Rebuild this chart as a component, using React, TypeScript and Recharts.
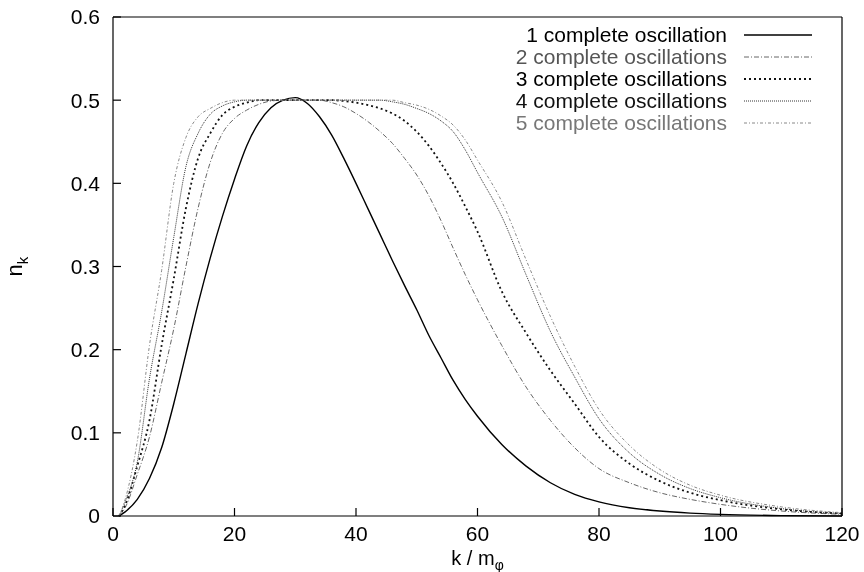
import { LineChart, Line, XAxis, YAxis, Legend } from "recharts";

const kValues = [
  1, 2, 4, 6, 8, 10, 12, 14, 16, 18, 20, 22, 24, 26, 28, 30, 32, 34, 36, 38, 40,
  42, 44, 46, 48, 50, 52, 54, 56, 58, 60, 64, 68, 72, 76, 80, 85, 90, 95, 100, 110, 120,
];

const osc1 = [
  0, 0.005, 0.02, 0.045, 0.082, 0.135, 0.195, 0.255, 0.31, 0.36, 0.405, 0.445, 0.473,
  0.491, 0.5, 0.503, 0.496, 0.48, 0.458, 0.43, 0.4, 0.369, 0.338, 0.307, 0.277, 0.248,
  0.217, 0.19, 0.163, 0.14, 0.12, 0.086, 0.06, 0.04, 0.026, 0.017, 0.01, 0.006, 0.0035,
  0.002, 0.0005, 0,
];

const osc2 = [
  0, 0.01, 0.05, 0.095, 0.16, 0.225, 0.3, 0.37, 0.425, 0.46, 0.478, 0.488, 0.495, 0.499,
  0.5, 0.5, 0.5, 0.5, 0.497, 0.492, 0.484, 0.474, 0.462, 0.448, 0.43, 0.41, 0.385, 0.355,
  0.322, 0.29, 0.26, 0.205, 0.155, 0.115, 0.082, 0.057, 0.04, 0.028, 0.02, 0.014, 0.006,
  0.002,
];

const osc3 = [
  0, 0.013, 0.06, 0.115, 0.205, 0.285, 0.37, 0.43, 0.46, 0.482, 0.492, 0.497, 0.5, 0.5,
  0.5, 0.5, 0.5, 0.5, 0.5, 0.499, 0.497, 0.494, 0.49, 0.484, 0.475, 0.462, 0.445, 0.424,
  0.4, 0.372, 0.342, 0.27, 0.22, 0.175, 0.135, 0.095, 0.063, 0.042, 0.028, 0.019, 0.008,
  0.003,
];

const osc4 = [
  0, 0.017, 0.065, 0.165, 0.245, 0.335, 0.42, 0.46, 0.483, 0.493, 0.498, 0.5, 0.5, 0.5,
  0.5, 0.5, 0.5, 0.5, 0.5, 0.5, 0.5, 0.5, 0.5, 0.498, 0.495, 0.49, 0.484, 0.475, 0.462,
  0.44, 0.413, 0.36, 0.29, 0.222, 0.167, 0.117, 0.076, 0.05, 0.033, 0.022, 0.009, 0.003,
];

const osc5 = [
  0, 0.02, 0.09, 0.205, 0.295, 0.4, 0.455, 0.48, 0.49, 0.497, 0.5, 0.5, 0.5, 0.5, 0.5,
  0.5, 0.5, 0.5, 0.5, 0.5, 0.5, 0.5, 0.5, 0.5, 0.497, 0.494, 0.489, 0.481, 0.47, 0.452,
  0.428, 0.378, 0.308, 0.24, 0.18, 0.128, 0.085, 0.056, 0.037, 0.025, 0.011, 0.004,
];

const xTicks = [0, 20, 40, 60, 80, 100, 120];
const yTicks = [0, 0.1, 0.2, 0.3, 0.4, 0.5, 0.6];

const seriesLabels = [
  "1 complete oscillation",
  "2 complete oscillations",
  "3 complete oscillations",
  "4 complete oscillations",
  "5 complete oscillations",
];

const FONT = '"Liberation Sans", Arial, Helvetica, sans-serif';

const series = [
  { key: "osc1", name: seriesLabels[0], stroke: "#000", text: "#000", width: 1.4, dash: undefined },
  { key: "osc2", name: seriesLabels[1], stroke: "#666", text: "#555", width: 1, dash: "5 2 1 2" },
  { key: "osc3", name: seriesLabels[2], stroke: "#111", text: "#000", width: 1.8, dash: "2 3" },
  { key: "osc4", name: seriesLabels[3], stroke: "#333", text: "#111", width: 1, dash: "1 1" },
  { key: "osc5", name: seriesLabels[4], stroke: "#888", text: "#777", width: 1, dash: "3 2 1 2" },
];

const data = kValues.map((k, i) => ({
  k,
  osc1: osc1[i],
  osc2: osc2[i],
  osc3: osc3[i],
  osc4: osc4[i],
  osc5: osc5[i],
}));

function OscLegend() {
  return (
    <div style={{ fontFamily: FONT, fontSize: 21 }}>
      {series.map((s) => (
        <div
          key={s.key}
          style={{
            display: "flex",
            alignItems: "center",
            justifyContent: "flex-end",
            height: 22,
            color: s.text,
          }}
        >
          <span style={{ lineHeight: "22px" }}>{s.name}</span>
          <svg width={68} height={10} style={{ marginLeft: 17 }}>
            <line x1={0} x2={68} y1={5} y2={5} stroke={s.stroke} strokeWidth={s.width} strokeDasharray={s.dash} />
          </svg>
        </div>
      ))}
    </div>
  );
}

function YLabel(props: any) {
  const { viewBox } = props;
  const cx = viewBox.x + 22;
  const cy = viewBox.y + viewBox.height / 2;
  return (
    <text
      x={cx}
      y={cy}
      transform={`rotate(-90 ${cx} ${cy})`}
      textAnchor="middle"
      fontFamily={FONT}
      fontSize={22}
      fill="#000"
    >
      n
      <tspan fontSize={15} dy={6}>k</tspan>
    </text>
  );
}

function XLabel(props: any) {
  const { viewBox } = props;
  const cx = viewBox.x + viewBox.width / 2;
  const cy = viewBox.y + 49;
  return (
    <text x={cx} y={cy} textAnchor="middle" fontFamily={FONT} fontSize={20} fill="#000">
      k / m
      <tspan fontSize={14} dy={5}>φ</tspan>
    </text>
  );
}

const tickStyle = { fill: "#000", fontSize: 21, fontFamily: FONT };

export default function App() {
  return (
    <div style={{ position: "fixed", left: 0, top: 0 }}>
      <LineChart width={864} height={572} data={data} margin={{ top: 16, right: 21, left: 0, bottom: 0 }}>
        <XAxis
          dataKey="k"
          type="number"
          domain={[0, 120]}
          ticks={xTicks}
          tick={tickStyle}
          tickSize={-8}
          tickMargin={18}
          height={56}
          stroke="#000"
          strokeWidth={1.2}
          label={<XLabel />}
        />
        <XAxis
          xAxisId="top"
          orientation="top"
          dataKey="k"
          type="number"
          domain={[0, 120]}
          ticks={xTicks}
          tick={false}
          tickSize={-8}
          height={1}
          stroke="#000"
          strokeWidth={1.2}
        />
        <YAxis
          type="number"
          domain={[0, 0.6]}
          ticks={yTicks}
          tick={tickStyle}
          tickFormatter={(v: number) => (v === 0 ? "0" : v.toFixed(1))}
          tickSize={-8}
          tickMargin={21}
          width={113}
          stroke="#000"
          strokeWidth={1.2}
          label={<YLabel />}
        />
        <YAxis
          yAxisId="right"
          orientation="right"
          type="number"
          domain={[0, 0.6]}
          ticks={yTicks}
          tick={false}
          tickSize={-8}
          width={1}
          stroke="#000"
          strokeWidth={1.2}
        />
        <Legend
          layout="vertical"
          align="center"
          verticalAlign="middle"
          content={<OscLegend />}
          wrapperStyle={{ position: "absolute", top: 24, right: 52, left: "auto", bottom: "auto", width: "auto" }}
        />
        {series.map((s) => (
          <Line
            key={s.key}
            dataKey={s.key}
            name={s.name}
            type="monotone"
            stroke={s.stroke}
            strokeWidth={s.width}
            strokeDasharray={s.dash}
            dot={false}
            activeDot={false}
            isAnimationActive={false}
          />
        ))}
      </LineChart>
    </div>
  );
}
